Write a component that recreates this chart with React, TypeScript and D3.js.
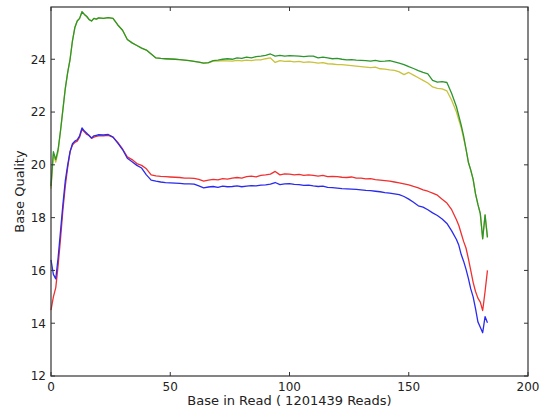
import React from "react";
import * as d3 from "d3";

const positions = [
  0,1,2,3,4,5,6,7,8,9,10,11,12,13,14,15,16,17,18,19,20,
  22,24,26,28,30,32,34,36,38,40,42,44,46,48,50,52,54,56,58,60,62,64,66,68,70,72,74,76,78,80,
  82,84,86,88,90,92,94,96,98,100,102,104,106,108,110,112,114,116,118,120,122,124,126,128,130,
  132,134,136,138,140,142,144,146,148,150,152,154,156,158,160,162,164,166,168,170,
  171,172,173,174,175,176,177,178,179,180,181,182,183,
];

const yellowSeries = [
  19.1,20.4,20.1,20.5,21.3,22.1,22.9,23.5,24.0,24.7,25.2,25.45,25.55,25.8,25.7,25.62,25.5,25.45,25.55,25.52,25.57,
  25.55,25.58,25.55,25.3,25.1,24.75,24.62,24.52,24.42,24.35,24.2,24.05,24.03,24.02,24.01,24.0,23.99,23.97,23.95,23.92,23.89,23.85,23.86,
  23.93,23.93,23.95,23.94,23.93,23.96,23.94,23.97,23.95,23.98,23.98,24.02,24.05,23.88,23.95,23.92,23.93,23.9,23.92,23.88,23.9,23.88,
  23.85,23.87,23.83,23.82,23.8,23.8,23.78,23.76,23.74,23.72,23.7,23.68,23.7,23.64,23.63,23.6,23.58,23.52,23.42,23.5,23.4,23.3,23.2,
  23.1,22.95,22.9,22.88,22.8,22.45,22.0,
  21.7,21.4,21.0,20.6,20.1,19.8,19.45,18.9,18.5,18.15,17.2,18.1,17.25,
];

const greenSeries = [
  19.2,20.5,20.2,20.6,21.3,22.1,22.9,23.5,24.0,24.7,25.2,25.45,25.55,25.8,25.7,25.62,25.5,25.45,25.55,25.52,25.57,
  25.55,25.58,25.55,25.3,25.1,24.75,24.62,24.52,24.42,24.35,24.2,24.05,24.03,24.02,24.01,24.0,23.99,23.97,23.95,23.92,23.89,23.85,23.87,
  23.95,23.97,24.0,24.02,24.0,24.05,24.03,24.08,24.05,24.1,24.12,24.15,24.2,24.12,24.15,24.12,24.14,24.13,24.12,24.1,24.12,24.12,
  24.05,24.08,24.05,24.02,24.03,24.0,23.98,23.99,23.97,23.96,23.95,23.93,23.96,23.92,23.93,23.95,23.9,23.85,23.8,23.72,23.65,23.57,23.5,
  23.45,23.2,23.13,23.15,23.12,22.7,22.2,
  21.85,21.5,21.1,20.6,20.1,19.8,19.45,18.9,18.5,18.15,17.2,18.1,17.25,
];

const redSeries = [
  14.5,15.0,15.35,16.2,17.2,18.3,19.2,19.9,20.5,20.75,20.85,20.9,21.05,21.35,21.25,21.15,21.12,21.0,21.05,21.08,21.1,
  21.1,21.12,21.05,20.85,20.6,20.3,20.2,20.05,19.98,19.85,19.62,19.58,19.56,19.55,19.54,19.53,19.52,19.5,19.5,19.49,19.45,19.38,19.42,
  19.45,19.43,19.48,19.46,19.5,19.52,19.5,19.55,19.57,19.54,19.6,19.62,19.65,19.75,19.62,19.66,19.65,19.62,19.64,19.6,19.62,19.6,
  19.57,19.6,19.55,19.56,19.55,19.53,19.52,19.54,19.5,19.5,19.47,19.48,19.44,19.42,19.4,19.38,19.35,19.32,19.28,19.24,19.18,19.13,19.05,
  19.0,18.93,18.85,18.7,18.55,18.3,17.92,
  17.7,17.4,17.1,16.85,16.45,16.0,15.55,15.2,14.95,14.8,14.48,15.2,16.0,
];

const blueSeries = [
  16.4,15.85,15.68,16.5,17.5,18.5,19.4,20.0,20.5,20.8,20.9,20.95,21.1,21.4,21.28,21.2,21.1,21.02,21.1,21.12,21.14,
  21.13,21.15,21.05,20.82,20.58,20.25,20.12,19.98,19.88,19.62,19.42,19.38,19.35,19.33,19.32,19.31,19.3,19.28,19.28,19.27,19.2,19.13,19.16,
  19.18,19.15,19.19,19.17,19.18,19.2,19.17,19.19,19.21,19.2,19.23,19.24,19.27,19.33,19.25,19.28,19.29,19.26,19.25,19.22,19.23,19.2,
  19.18,19.19,19.15,19.14,19.12,19.1,19.09,19.08,19.07,19.05,19.03,19.02,19.0,18.98,18.95,18.93,18.9,18.87,18.8,18.7,18.58,18.45,18.4,
  18.3,18.18,18.08,17.95,17.78,17.5,17.17,
  16.95,16.6,16.35,16.05,15.7,15.3,15.0,14.55,14.05,13.85,13.64,14.25,14.02,
];

const xTicks = [0, 50, 100, 150, 200];
const yTicks = [12, 14, 16, 18, 20, 22, 24];
const xLabel = "Base in Read ( 1201439 Reads)";
const yLabel = "Base Quality";

const seriesList = [
  { name: "yellow", values: yellowSeries, color: "#c9c23a" },
  { name: "green", values: greenSeries, color: "#2c952c" },
  { name: "red", values: redSeries, color: "#f03030" },
  { name: "blue", values: blueSeries, color: "#2a2aee" },
];

export default function App() {
  const W = 539, H = 410;
  const left = 51, right = 528, top = 7, bottom = 376;
  const x = d3.scaleLinear().domain([0, 200]).range([left, right]);
  const y = d3.scaleLinear().domain([12, 25.98]).range([bottom, top]);
  const line = d3
    .line<[number, number]>()
    .x((d) => x(d[0]))
    .y((d) => y(d[1]));
  const font = "'DejaVu Sans', sans-serif";
  const axisColor = "#333";
  return (
    <svg
      width={W}
      height={H}
      style={{ position: "fixed", left: 0, top: 0, background: "#fff" }}
    >
      <rect x={0} y={0} width={W} height={H} fill="#fff" />
      <g>
        {seriesList.map((s) => {
          const pts: [number, number][] = positions
            .map((p, i) => [p, s.values[i]] as [number, number])
            .filter((d) => d[1] !== undefined);
          return (
            <path
              key={s.name}
              d={line(pts) || ""}
              fill="none"
              stroke={s.color}
              strokeWidth={1.3}
              strokeLinejoin="round"
            />
          );
        })}
      </g>
      <rect
        x={left}
        y={top}
        width={right - left}
        height={bottom - top}
        fill="none"
        stroke={axisColor}
        strokeWidth={1.2}
      />
      {xTicks.map((t) => (
        <g key={"x" + t}>
          <line x1={x(t)} x2={x(t)} y1={bottom} y2={bottom - 4} stroke={axisColor} />
          <line x1={x(t)} x2={x(t)} y1={top} y2={top + 4} stroke={axisColor} />
          <text
            x={x(t)}
            y={bottom + 15}
            textAnchor="middle"
            fontFamily={font}
            fontSize={12}
            fill="#222"
          >
            {t}
          </text>
        </g>
      ))}
      {yTicks.map((t) => (
        <g key={"y" + t}>
          <line x1={left} x2={left + 4} y1={y(t)} y2={y(t)} stroke={axisColor} />
          <line x1={right} x2={right - 4} y1={y(t)} y2={y(t)} stroke={axisColor} />
          <text
            x={left - 5}
            y={y(t)}
            dy="0.36em"
            textAnchor="end"
            fontFamily={font}
            fontSize={12}
            fill="#222"
          >
            {t}
          </text>
        </g>
      ))}
      <text
        x={(left + right) / 2}
        y={405}
        textAnchor="middle"
        fontFamily={font}
        fontSize={13}
        fill="#222"
      >
        {xLabel}
      </text>
      <text
        transform={`translate(24, ${(top + bottom) / 2}) rotate(-90)`}
        textAnchor="middle"
        fontFamily={font}
        fontSize={13}
        fill="#222"
      >
        {yLabel}
      </text>
    </svg>
  );
}
